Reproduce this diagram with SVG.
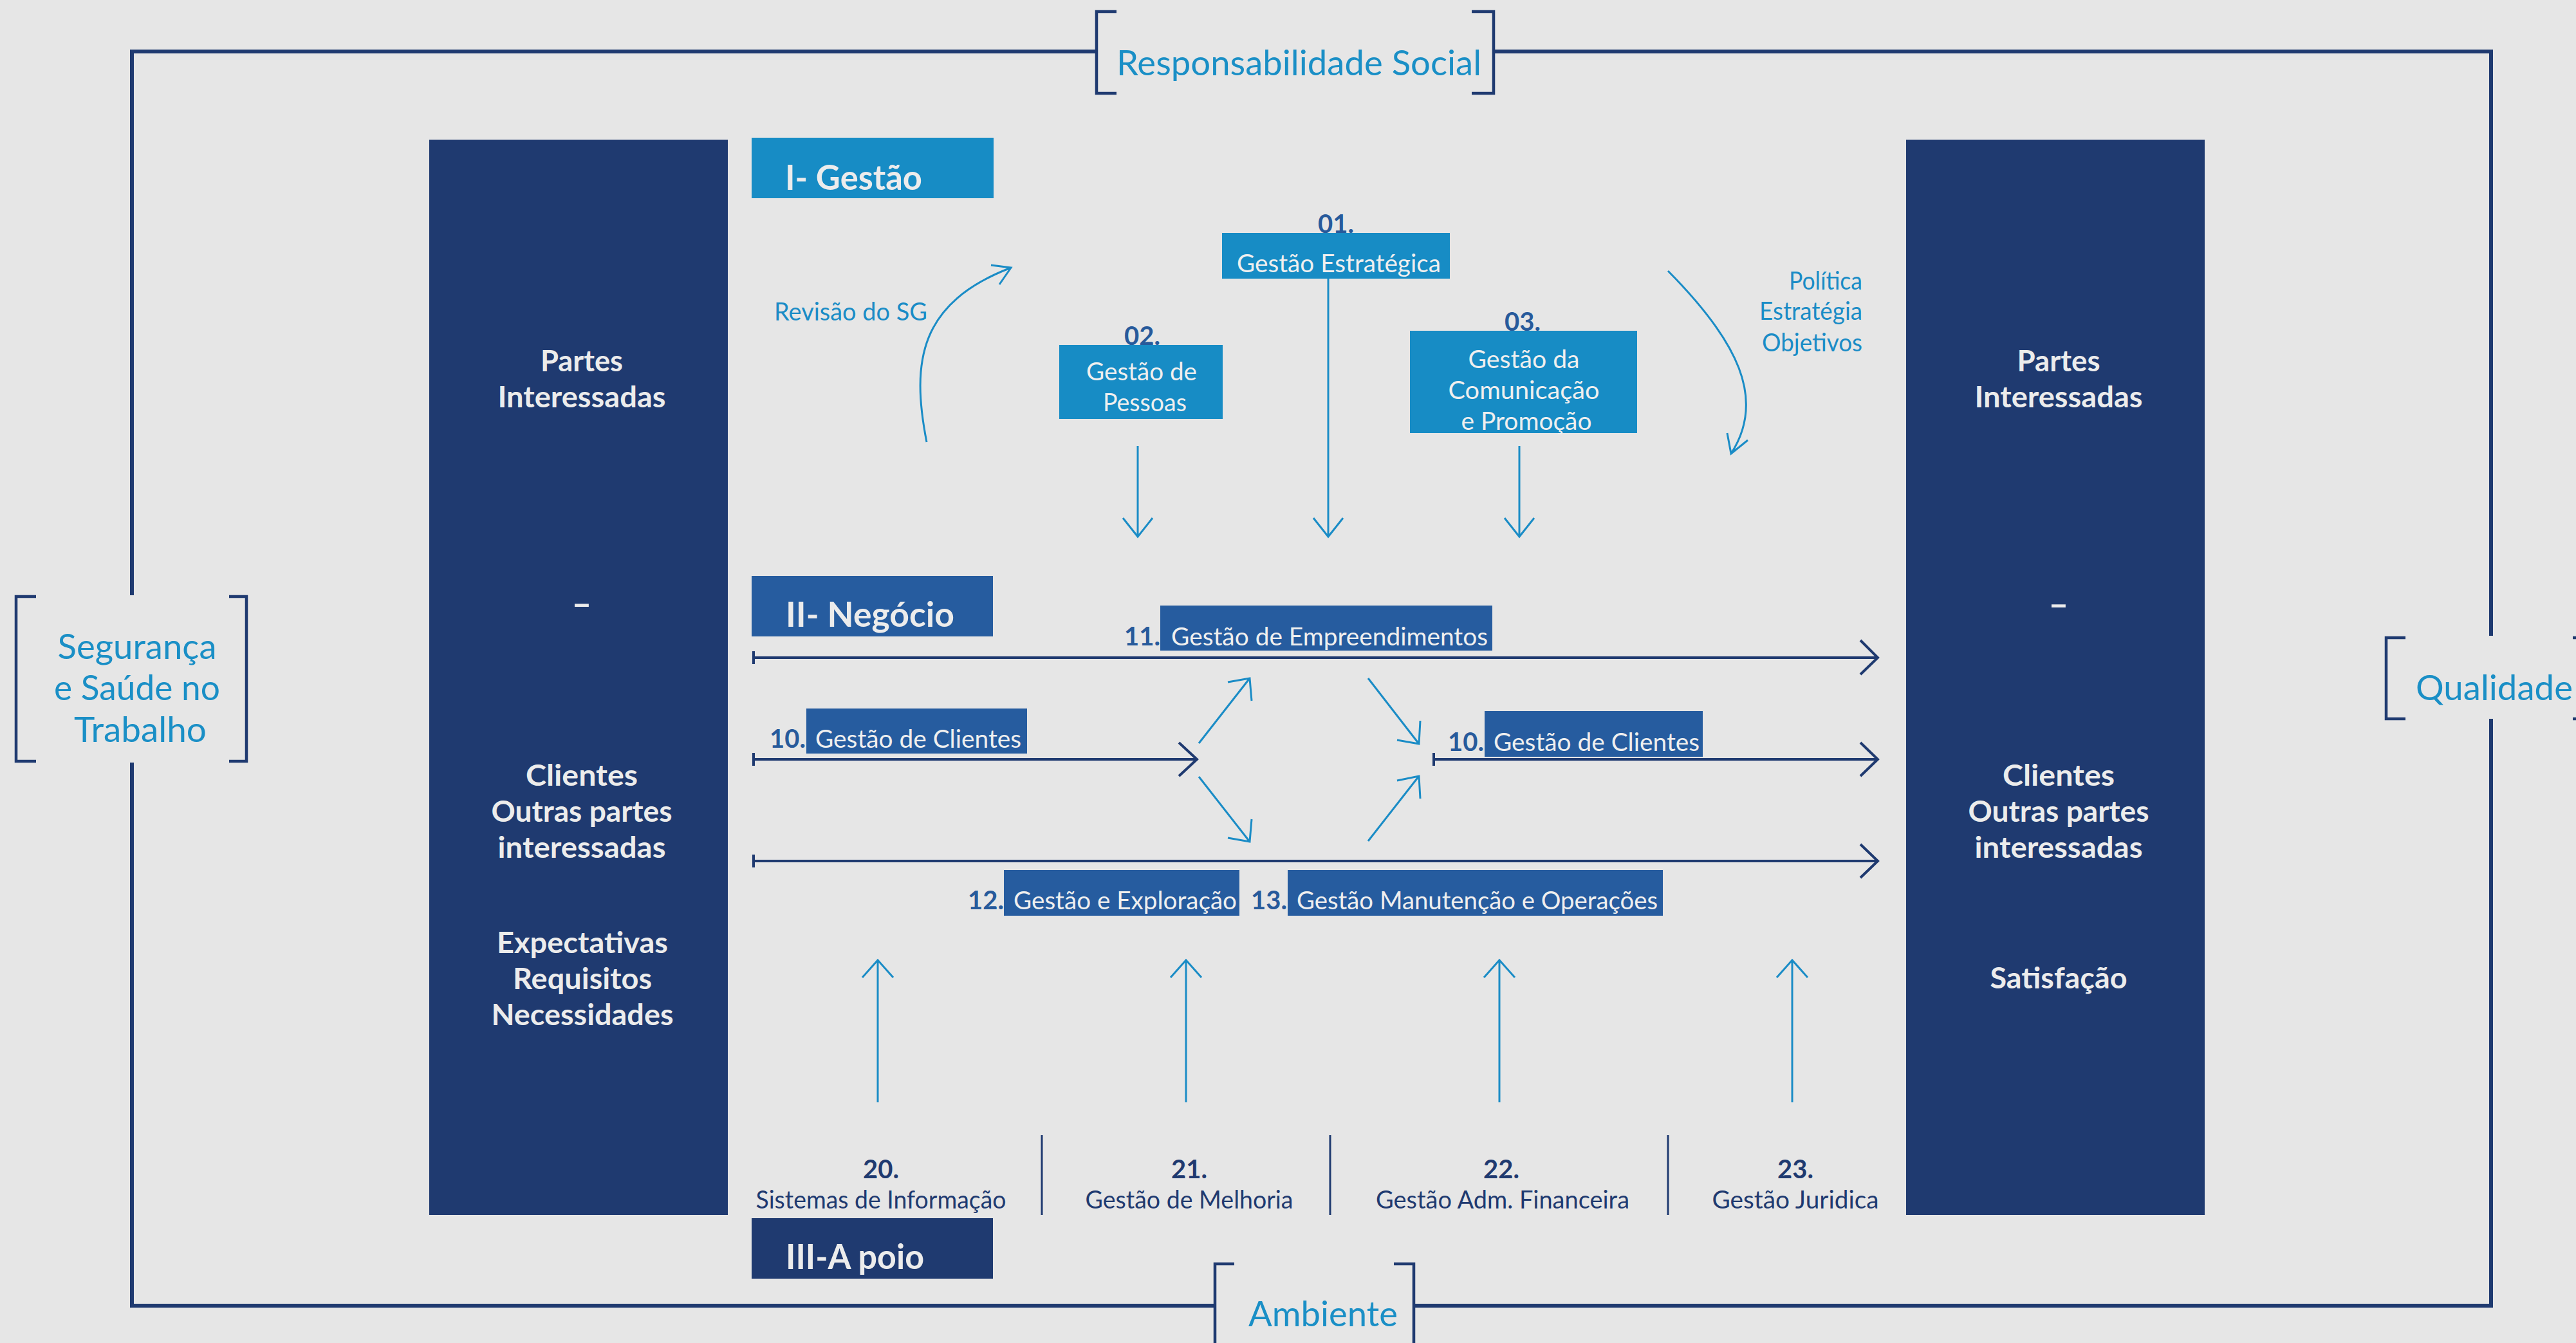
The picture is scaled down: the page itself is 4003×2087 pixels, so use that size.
<svg xmlns="http://www.w3.org/2000/svg" width="4003" height="2087" viewBox="0 0 4003 2087">
<defs>
<style>
.bg{fill:#e6e6e6}
.frame{fill:none;stroke:#1f3a70;stroke-width:6}
.brk{fill:none;stroke:#1f3a70;stroke-width:4.5}
.panel{fill:#1f3a70}
.gbox{fill:#178cc5}
.nbox{fill:#265c9f}
.abox{fill:#1f3a70}
.row{fill:none;stroke:#1f3a70;stroke-width:4}
.lb{fill:none;stroke:#1a8cc6;stroke-width:3}
.sep{fill:none;stroke:#1f3a70;stroke-width:3}
text{font-family:Lato,"Liberation Sans",sans-serif}
.ttl{fill:#1a8fc6;font-size:54px}
.sec{fill:#ececec;font-size:54px;font-weight:700}
.pt{fill:#ececec;font-size:46px;font-weight:700;text-anchor:middle}
.dash{fill:#ececec;font-size:54px;font-weight:700;text-anchor:middle}
.bt{fill:#efefef;font-size:39px}
.lbt{fill:#1a8cc6;font-size:38px}
.num{fill:#275a9b;font-size:40px;font-weight:700}
.snum{fill:#1f3a70;font-size:40px;font-weight:700;text-anchor:middle}
.slab{fill:#1f3a70;font-size:38px;text-anchor:middle}
</style>
</defs>
<rect class="bg" x="0" y="0" width="4003" height="2087"/>

<g id="frame">
<path class="frame" d="M1704,80 H205 V925 M205,1185 V2029 H1888 M2197,2029 H3871 V1117 M3871,988 V80 H2321"/>
</g>

<g id="responsabilidade-social">
<path class="brk" d="M1735,18 H1704 V145 H1735 M2287,18 H2321 V145 H2287"/>
<text class="ttl" x="1735" y="117" textLength="567" lengthAdjust="spacingAndGlyphs">Responsabilidade Social</text>
</g>

<g id="seguranca">
<path class="brk" d="M56,927 H25 V1183 H56 M356,927 H383 V1183 H356"/>
<text class="ttl" x="213" y="1024" text-anchor="middle" font-size="52" textLength="247" lengthAdjust="spacingAndGlyphs">Segurança</text>
<text class="ttl" x="213" y="1088" text-anchor="middle" font-size="52" textLength="258" lengthAdjust="spacingAndGlyphs">e Saúde no</text>
<text class="ttl" x="218" y="1153" text-anchor="middle" font-size="52" textLength="206" lengthAdjust="spacingAndGlyphs">Trabalho</text>
</g>

<g id="qualidade">
<path class="brk" d="M3738,991 H3708 V1117 H3738 M3998,991 H4010 V1117 H3998"/>
<text class="ttl" x="3754" y="1088" textLength="244" lengthAdjust="spacingAndGlyphs">Qualidade</text>
</g>

<g id="ambiente">
<path class="brk" d="M1918,1964 H1888 V2095 M2166,1964 H2197 V2095"/>
<text class="ttl" x="1940" y="2061" font-size="52" textLength="232" lengthAdjust="spacingAndGlyphs">Ambiente</text>
</g>

<g id="panel-left">
<rect class="panel" x="667" y="217" width="464" height="1671"/>
<text class="pt" x="904" y="577" textLength="128" lengthAdjust="spacingAndGlyphs">Partes</text>
<text class="pt" x="904" y="633" textLength="261" lengthAdjust="spacingAndGlyphs">Interessadas</text>
<text class="dash" x="904" y="957">–</text>
<text class="pt" x="904" y="1221" textLength="174" lengthAdjust="spacingAndGlyphs">Clientes</text>
<text class="pt" x="904" y="1277" textLength="281" lengthAdjust="spacingAndGlyphs">Outras partes</text>
<text class="pt" x="904" y="1333" textLength="261" lengthAdjust="spacingAndGlyphs">interessadas</text>
<text class="pt" x="905" y="1481" textLength="266" lengthAdjust="spacingAndGlyphs">Expectativas</text>
<text class="pt" x="905" y="1537" textLength="216" lengthAdjust="spacingAndGlyphs">Requisitos</text>
<text class="pt" x="905" y="1593" textLength="283" lengthAdjust="spacingAndGlyphs">Necessidades</text>
</g>

<g id="panel-right">
<rect class="panel" x="2962" y="217" width="464" height="1671"/>
<text class="pt" x="3199" y="577" textLength="129" lengthAdjust="spacingAndGlyphs">Partes</text>
<text class="pt" x="3199" y="633" textLength="261" lengthAdjust="spacingAndGlyphs">Interessadas</text>
<text class="dash" x="3199" y="958">–</text>
<text class="pt" x="3199" y="1221" textLength="174" lengthAdjust="spacingAndGlyphs">Clientes</text>
<text class="pt" x="3199" y="1277" textLength="281" lengthAdjust="spacingAndGlyphs">Outras partes</text>
<text class="pt" x="3199" y="1333" textLength="261" lengthAdjust="spacingAndGlyphs">interessadas</text>
<text class="pt" x="3199" y="1536" textLength="213" lengthAdjust="spacingAndGlyphs">Satisfação</text>
</g>

<g id="sec-gestao">
<rect class="gbox" x="1168" y="214" width="376" height="94"/>
<text class="sec" x="1220" y="295" textLength="213" lengthAdjust="spacingAndGlyphs">I- Gestão</text>
</g>
<g id="sec-negocio">
<rect class="nbox" x="1168" y="895" width="375" height="94"/>
<text class="sec" x="1221" y="974" textLength="262" lengthAdjust="spacingAndGlyphs">II- Negócio</text>
</g>
<g id="sec-apoio">
<rect class="abox" x="1168" y="1893" width="375" height="94"/>
<text class="sec" x="1221" y="1972" textLength="215" lengthAdjust="spacingAndGlyphs">III-A poio</text>
</g>

<g id="n01">
<rect class="gbox" x="1899" y="362" width="354" height="71"/>
<text class="num" x="2076" y="362" text-anchor="middle">01.</text>
<text class="bt" x="1922" y="423" textLength="317" lengthAdjust="spacingAndGlyphs">Gestão Estratégica</text>
</g>
<g id="n02">
<rect class="gbox" x="1646" y="536" width="254" height="115"/>
<text class="num" x="1775" y="536" text-anchor="middle">02.</text>
<text class="bt" x="1774" y="591" text-anchor="middle" textLength="172" lengthAdjust="spacingAndGlyphs">Gestão de</text>
<text class="bt" x="1779" y="639" text-anchor="middle" textLength="130" lengthAdjust="spacingAndGlyphs">Pessoas</text>
</g>
<g id="n03">
<rect class="gbox" x="2191" y="514" width="353" height="159"/>
<text class="num" x="2366" y="514" text-anchor="middle">03.</text>
<text class="bt" x="2368" y="572" text-anchor="middle" textLength="173" lengthAdjust="spacingAndGlyphs">Gestão da</text>
<text class="bt" x="2368" y="620" text-anchor="middle" textLength="235" lengthAdjust="spacingAndGlyphs">Comunicação</text>
<text class="bt" x="2372" y="668" text-anchor="middle" textLength="203" lengthAdjust="spacingAndGlyphs">e Promoção</text>
</g>

<g id="labels-gestao">
<text class="lbt" x="1203" y="498" textLength="238" lengthAdjust="spacingAndGlyphs">Revisão do SG</text>
<text class="lbt" x="2894" y="450" text-anchor="end" textLength="114" lengthAdjust="spacingAndGlyphs">Política</text>
<text class="lbt" x="2894" y="497" text-anchor="end" textLength="160" lengthAdjust="spacingAndGlyphs">Estratégia</text>
<text class="lbt" x="2894" y="546" text-anchor="end" textLength="156" lengthAdjust="spacingAndGlyphs">Objetivos</text>
</g>

<g id="n11">
<rect class="nbox" x="1803" y="941" width="516" height="70"/>
<text class="num" x="1803" y="1003" text-anchor="end">11.</text>
<text class="bt" x="1820" y="1003" font-size="38" textLength="492" lengthAdjust="spacingAndGlyphs">Gestão de Empreendimentos</text>
</g>
<g id="n10-left">
<rect class="nbox" x="1253" y="1101" width="343" height="70"/>
<text class="num" x="1252" y="1162" text-anchor="end">10.</text>
<text class="bt" x="1267" y="1162" font-size="38" textLength="320" lengthAdjust="spacingAndGlyphs">Gestão de Clientes</text>
</g>
<g id="n10-right">
<rect class="nbox" x="2307" y="1105" width="339" height="71"/>
<text class="num" x="2306" y="1167" text-anchor="end">10.</text>
<text class="bt" x="2321" y="1167" font-size="38" textLength="320" lengthAdjust="spacingAndGlyphs">Gestão de Clientes</text>
</g>
<g id="n12">
<rect class="nbox" x="1560" y="1352" width="366" height="71"/>
<text class="num" x="1560" y="1413" text-anchor="end">12.</text>
<text class="bt" x="1575" y="1413" font-size="38" textLength="347" lengthAdjust="spacingAndGlyphs">Gestão e Exploração</text>
</g>
<g id="n13">
<rect class="nbox" x="2001" y="1352" width="583" height="71"/>
<text class="num" x="2000" y="1413" text-anchor="end">13.</text>
<text class="bt" x="2015" y="1413" font-size="38" textLength="561" lengthAdjust="spacingAndGlyphs">Gestão Manutenção e Operações</text>
</g>

<g id="n20">
<text class="snum" x="1369" y="1831">20.</text>
<text class="slab" x="1369" y="1878" textLength="389" lengthAdjust="spacingAndGlyphs">Sistemas de Informação</text>
</g>
<g id="n21">
<text class="snum" x="1848" y="1831">21.</text>
<text class="slab" x="1848" y="1878" textLength="323" lengthAdjust="spacingAndGlyphs">Gestão de Melhoria</text>
</g>
<g id="n22">
<text class="snum" x="2333" y="1831">22.</text>
<text class="slab" x="2335" y="1878" textLength="394" lengthAdjust="spacingAndGlyphs">Gestão Adm. Financeira</text>
</g>
<g id="n23">
<text class="snum" x="2790" y="1831">23.</text>
<text class="slab" x="2790" y="1878" textLength="259" lengthAdjust="spacingAndGlyphs">Gestão Juridica</text>
</g>

<g id="connectors">
<path class="lb" d="M1440,687 C1415,560 1430,470 1571,416 M1540,412 L1571,416 L1553,442"/>
<path class="lb" d="M2592,421 C2700,530 2745,620 2690,705 M2684,673 L2690,705 L2716,684"/>
<path class="lb" d="M1768,693 V834 M1745,805 L1768,834 L1791,805"/>
<path class="lb" d="M2064,433 V834 M2041,805 L2064,834 L2087,805"/>
<path class="lb" d="M2361,693 V834 M2338,805 L2361,834 L2384,805"/>

<path class="row" d="M1170,1022 H2918 M1171,1012 V1032 M2891,995 L2918,1022 L2891,1048"/>
<path class="row" d="M1170,1180 H1860 M1171,1170 V1190 M1832,1154 L1860,1180 L1832,1206"/>
<path class="row" d="M2228,1180 H2918 M2228,1170 V1190 M2891,1154 L2918,1180 L2891,1206"/>
<path class="row" d="M1170,1338 H2918 M1171,1328 V1348 M2891,1312 L2918,1338 L2891,1364"/>

<path class="lb" d="M1863,1155 L1942,1054 M1908,1060 L1942,1054 L1945,1089"/>
<path class="lb" d="M2126,1054 L2205,1156 M2171,1150 L2205,1156 L2207,1120"/>
<path class="lb" d="M1863,1207 L1942,1308 M1908,1302 L1942,1308 L1945,1273"/>
<path class="lb" d="M2126,1307 L2205,1206 M2171,1213 L2205,1206 L2207,1241"/>

<path class="lb" d="M1364,1713 V1492 M1340,1519 L1364,1492 L1388,1519"/>
<path class="lb" d="M1843,1713 V1492 M1819,1519 L1843,1492 L1867,1519"/>
<path class="lb" d="M2330,1713 V1492 M2306,1519 L2330,1492 L2354,1519"/>
<path class="lb" d="M2785,1713 V1492 M2761,1519 L2785,1492 L2809,1519"/>

<path class="sep" d="M1619,1764 V1888 M2067,1764 V1888 M2592,1764 V1888"/>
</g>
</svg>
